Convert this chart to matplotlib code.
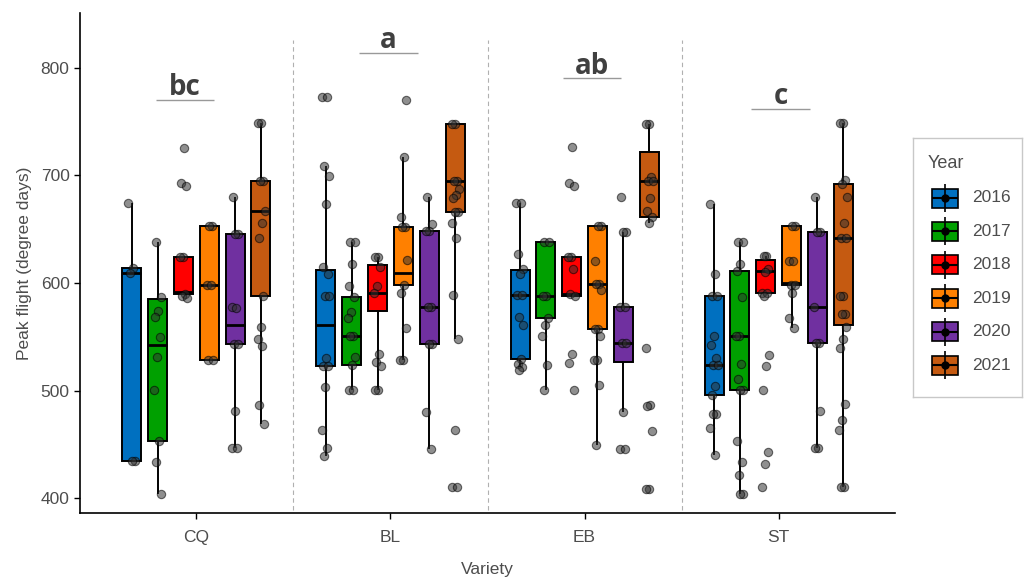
import matplotlib.pyplot as plt
import matplotlib.patches as mpatches
import numpy as np

plt.rcParams['font.family'] = ['Liberation Sans', 'DejaVu Sans']

varieties = ['CQ', 'BL', 'EB', 'ST']
years = ['2016', '2017', '2018', '2019', '2020', '2021']
colors = ['#0070C0', '#00A000', '#FF0000', '#FF8000', '#7030A0', '#C55A11']

# box stats per variety, one row per year: (whislo, q1, median, q3, whishi)
cq_stats = [(435, 435, 609, 614, 674), (404, 453, 542, 585, 638), (590, 590, 592, 624, 624),
            (528, 528, 598, 653, 653), (447, 543, 561, 645, 680), (469, 588, 667, 695, 749)]
bl_stats = [(439, 523, 561, 612, 709), (501, 524, 551, 587, 638), (501, 574, 591, 617, 624),
            (528, 598, 609, 652, 717), (446, 543, 578, 648, 680), (548, 666, 695, 748, 748)]
eb_stats = [(522, 529, 589, 612, 674), (501, 567, 588, 638, 638), (588, 588, 590, 624, 624),
            (449, 557, 599, 653, 653), (480, 527, 544, 578, 647), (656, 661, 695, 722, 748)]
st_stats = [(440, 496, 524, 588, 673), (404, 501, 551, 611, 638), (591, 591, 611, 621, 625),
            (558, 598, 600, 653, 653), (447, 544, 578, 647, 680), (410, 561, 642, 692, 749)]

# individual observations per variety, one list per year
cq_points = [[674, 614, 609, 435, 435],
             [638, 587, 574, 568, 550, 531, 501, 453, 434, 404],
             [725, 693, 690, 624, 624, 590, 588, 586],
             [653, 653, 598, 598, 528, 528],
             [680, 645, 645, 578, 577, 543, 543, 481, 447, 447],
             [749, 749, 695, 695, 667, 656, 642, 588, 559, 548, 541, 487, 469]]
bl_points = [[773, 773, 709, 699, 673, 615, 608, 588, 588, 530, 523, 523, 503, 463, 447, 439],
             [638, 638, 618, 597, 587, 573, 567, 551, 551, 531, 524, 501, 501],
             [624, 624, 615, 597, 591, 534, 527, 523, 501, 501],
             [770, 717, 661, 652, 652, 621, 598, 591, 558, 528, 528],
             [680, 655, 648, 648, 578, 578, 543, 543, 480, 446],
             [748, 748, 695, 695, 687, 682, 679, 666, 666, 656, 642, 589, 548, 463, 410, 410]]
eb_points = [[674, 674, 627, 613, 608, 589, 589, 568, 561, 529, 525, 522, 519],
             [638, 638, 588, 588, 567, 561, 551, 524, 501],
             [726, 693, 690, 624, 624, 613, 590, 588, 534, 526, 501],
             [653, 653, 620, 599, 599, 593, 557, 557, 551, 528, 528, 505, 449],
             [680, 647, 647, 578, 578, 544, 544, 480, 446, 446],
             [748, 748, 698, 695, 695, 679, 667, 661, 656, 540, 487, 486, 462, 409, 409]]
st_points = [[673, 608, 588, 588, 551, 542, 530, 524, 524, 504, 496, 478, 478, 465, 440],
             [638, 638, 618, 611, 587, 551, 551, 525, 511, 501, 501, 453, 434, 422, 404, 404],
             [625, 625, 613, 610, 591, 591, 588, 533, 523, 501, 443, 432, 410],
             [653, 653, 620, 620, 598, 598, 591, 567, 558],
             [680, 647, 647, 578, 544, 544, 481, 447, 447],
             [749, 749, 696, 692, 680, 656, 642, 642, 588, 588, 571, 571, 559, 548, 540, 488, 473, 463, 410, 410]]

# significance letters
letters = ['bc', 'a', 'ab', 'c']
letter_x = [0.94, 1.99, 3.04, 4.01]
letter_y = [770, 814, 790, 762]

all_stats = [cq_stats, bl_stats, eb_stats, st_stats]
all_points = [cq_points, bl_points, eb_points, st_points]

fig = plt.figure(figsize=(10.27, 5.81), dpi=100)
ax = fig.add_axes([0.0779, 0.1165, 0.7936, 0.8616])

dodge = 0.133
box_w = 0.098
grey = '#4d4d4d'

for v in range(len(varieties)):
    for k in range(len(years)):
        xc = v + 1 + (k - 2.5) * dodge
        lo, q1, med, q3, hi = all_stats[v][k]
        ax.vlines(xc, lo, q1, color='black', lw=1.4, zorder=2)
        ax.vlines(xc, q3, hi, color='black', lw=1.4, zorder=2)
        ax.add_patch(mpatches.Rectangle((xc - box_w / 2, q1), box_w, q3 - q1,
                                        facecolor=colors[k], edgecolor='black',
                                        lw=1.4, zorder=3))
        ax.hlines(med, xc - box_w / 2, xc + box_w / 2, color='black', lw=2, zorder=4)
        pts = np.array(all_points[v][k])
        # small fixed horizontal spread so overlapping points stay visible
        idx = np.arange(len(pts))
        jit = ((idx * 0.618 + 0.3 * k) % 1 - 0.5) * 0.04
        ax.plot(xc + jit, pts, 'o', ms=6, mfc='#333333', mec='black', mew=0.8,
                alpha=0.55, zorder=5, ls='none')

# dashed separators between varieties
ax.vlines([1.5, 2.5, 3.5], 389, 826, colors='#b0b0b0', linestyles=(0, (4, 3)), lw=0.8)

for t, lx, ly in zip(letters, letter_x, letter_y):
    ax.hlines(ly, lx - 0.15, lx + 0.15, color='#999999', lw=1)
    ax.text(lx, ly + 4.5, t, ha='center', va='baseline', fontsize=20,
            fontweight='bold', color='#404040', family=['Open Sans', 'DejaVu Sans'])

ax.set_xlim(0.4, 4.6)
ax.set_ylim(386, 851)
ax.set_xticks(range(1, 5))
ax.set_xticklabels(varieties)
ax.set_yticks([400, 500, 600, 700, 800])
ax.tick_params(colors='black', labelcolor=grey, labelsize=12.5, length=4, width=1)
ax.tick_params(axis='x', pad=8)
for s in ['top', 'right']:
    ax.spines[s].set_visible(False)
for s in ['left', 'bottom']:
    ax.spines[s].set_linewidth(1.2)
ax.set_xlabel('Variety', fontsize=12.5, color=grey, labelpad=12)
ax.set_ylabel('Peak flight (degree days)', fontsize=12.5, color=grey, labelpad=6)

# legend drawn by hand in its own axes
lg = fig.add_axes([913 / 1027, 1 - 397 / 581, 109 / 1027, 259 / 581])
lg.set_xlim(0, 109)
lg.set_ylim(259, 0)
lg.set_xticks([])
lg.set_yticks([])
for s in lg.spines.values():
    s.set_color('#c8c8c8')
    s.set_linewidth(1)
lg.text(15, 25, 'Year', fontsize=13, color=grey, va='center', ha='left')
for k, (yr, c) in enumerate(zip(years, colors)):
    yc = 60 + k * 33.4
    lg.vlines(32, yc - 14, yc + 14, color='black', lw=1.2)
    lg.add_patch(mpatches.Rectangle((19, yc - 9.5), 26, 19, facecolor=c,
                                    edgecolor='black', lw=1.2))
    lg.hlines(yc, 19, 45, color='black', lw=1.5)
    lg.plot(32, yc, 'o', color='black', ms=5)
    lg.text(59, yc, yr, fontsize=12.5, color=grey, va='center', ha='left')

fig.savefig('out.png', dpi=100)
